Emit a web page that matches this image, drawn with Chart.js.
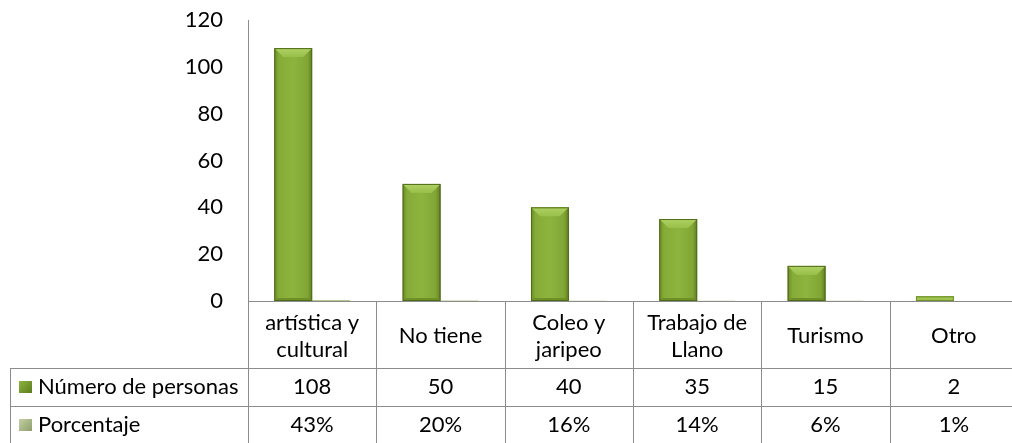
<!DOCTYPE html>
<html>
<head>
<meta charset="utf-8">
<script src="https://cdn.jsdelivr.net/npm/chart.js@4"></script>
<style>
html, body { margin: 0; padding: 0; overflow: hidden; background: #fff; }
#wrap { width: 1020px; height: 443px; }
</style>
</head>
<body>
<div id="wrap"><canvas id="chart"></canvas></div>
<script>
// data
const categories = [["artística y", "cultural"], ["No tiene"], ["Coleo y", "jaripeo"], ["Trabajo de", "Llano"], ["Turismo"], ["Otro"]];
const personas = [108, 50, 40, 35, 15, 2];
const porcentaje = [0.43, 0.20, 0.16, 0.14, 0.06, 0.01];
const porcentajeLabels = ["43%", "20%", "16%", "14%", "6%", "1%"];
const seriesNames = ["Número de personas", "Porcentaje"];
const yTicks = [0, 20, 40, 60, 80, 100, 120];

const FONT = "Lato";
const lineColor = "#8c8c8c";

// bevel look for the green bars, drawn over the bars the library placed
const bevelPlugin = {
    id: "bevel",
    afterDatasetsDraw(chart) {
        let ctx = chart.ctx;
        let meta = chart.getDatasetMeta(0);
        meta.data.forEach((bar) => {
            let left = bar.x - bar.width / 2;
            let right = bar.x + bar.width / 2;
            let top = bar.y;
            let bottom = bar.base;
            let h = bottom - top;
            if (h < 1) return;
            ctx.save();
            let g = ctx.createLinearGradient(left, 0, right, 0);
            g.addColorStop(0, "#6a8a26");
            g.addColorStop(0.12, "#86ab38");
            g.addColorStop(0.5, "#8db53e");
            g.addColorStop(0.88, "#80a535");
            g.addColorStop(1, "#5f7d20");
            ctx.fillStyle = g;
            ctx.fillRect(left, top, right - left, h);
            let b = Math.min(9, h / 2);
            if (h > 10) {
                // top bevel
                let tg = ctx.createLinearGradient(0, top, 0, top + b);
                tg.addColorStop(0, "#b0d265");
                tg.addColorStop(1, "#98bf48");
                ctx.fillStyle = tg;
                ctx.beginPath();
                ctx.moveTo(left, top);
                ctx.lineTo(right, top);
                ctx.lineTo(right - b, top + b);
                ctx.lineTo(left + b, top + b);
                ctx.closePath();
                ctx.fill();
                // bottom bevel
                ctx.fillStyle = "#6f9029";
                ctx.beginPath();
                ctx.moveTo(left, bottom);
                ctx.lineTo(right, bottom);
                ctx.lineTo(right - 3, bottom - 3);
                ctx.lineTo(left + 3, bottom - 3);
                ctx.closePath();
                ctx.fill();
                ctx.strokeStyle = "#4f6b17";
                ctx.lineWidth = 1;
                ctx.strokeRect(left + 0.5, top + 0.5, right - left - 1, h - 1);
            } else {
                ctx.fillStyle = "#9fc451";
                ctx.fillRect(left, top, right - left, h);
                ctx.strokeStyle = "#6f8f2a";
                ctx.lineWidth = 1;
                ctx.strokeRect(left + 0.5, top + 0.5, right - left - 1, h - 1);
            }
            ctx.restore();
        });
    }
};

// data table under the plot
const tablePlugin = {
    id: "dataTable",
    afterDraw(chart) {
        let ctx = chart.ctx;
        let x = chart.scales.x;
        let area = chart.chartArea;
        let n = categories.length;
        let half = (x.getPixelForValue(1) - x.getPixelForValue(0)) / 2;
        let edges = [];
        for (let i = 0; i < n; i++) edges.push(x.getPixelForValue(i) - half);
        edges.push(x.getPixelForValue(n - 1) + half);

        let top = area.bottom;
        let row1 = top + 67;
        let row2 = row1 + 38;
        let row3 = row2 + 38;
        let tableLeft = 10;
        let farRight = chart.width;

        ctx.save();
        ctx.strokeStyle = lineColor;
        ctx.lineWidth = 1;
        ctx.beginPath();
        ctx.moveTo(edges[0], Math.round(top) + 0.5);
        ctx.lineTo(farRight, Math.round(top) + 0.5);
        ctx.moveTo(tableLeft, Math.round(row1) + 0.5);
        ctx.lineTo(farRight, Math.round(row1) + 0.5);
        ctx.moveTo(tableLeft, Math.round(row2) + 0.5);
        ctx.lineTo(farRight, Math.round(row2) + 0.5);
        edges.forEach((e) => {
            ctx.moveTo(Math.round(e) + 0.5, top);
            ctx.lineTo(Math.round(e) + 0.5, row3);
        });
        ctx.moveTo(tableLeft + 0.5, row1);
        ctx.lineTo(tableLeft + 0.5, row3);
        ctx.stroke();

        ctx.fillStyle = "#000";
        ctx.font = "22px " + FONT;
        ctx.textAlign = "center";
        ctx.textBaseline = "middle";
        categories.forEach((lab, i) => {
            let cx = x.getPixelForValue(i);
            if (lab.length == 2) {
                ctx.fillText(lab[0], cx, top + 22);
                ctx.fillText(lab[1], cx, top + 49);
            } else {
                ctx.fillText(lab[0], cx, top + 35);
            }
            ctx.fillText(String(personas[i]), cx, row1 + 19);
            ctx.fillText(porcentajeLabels[i], cx, row2 + 19);
        });

        // row headers with legend keys
        let keys = [["#5c7c1e", "#8db53e"], ["#8f9f6c", "#c3d0a4"]];
        [row1, row2].forEach((ry, k) => {
            let sy = ry + 13;
            let g = ctx.createLinearGradient(19, sy, 32, sy + 12);
            g.addColorStop(0, keys[k][1]);
            g.addColorStop(1, keys[k][0]);
            ctx.fillStyle = g;
            ctx.fillRect(19, sy, 13, 12);
            ctx.fillStyle = "#000";
            ctx.textAlign = "left";
            ctx.fillText(seriesNames[k], 38, ry + 19);
        });
        ctx.restore();
    }
};

new Chart(document.querySelector("#chart"), {
    type: "bar",
    data: {
        labels: categories,
        datasets: [
            {
                label: seriesNames[0],
                data: personas,
                backgroundColor: "#8ab13a",
                borderColor: "#4f6b17",
                borderWidth: 1,
                categoryPercentage: 0.59,
                barPercentage: 1.0
            },
            {
                label: seriesNames[1],
                data: porcentaje,
                backgroundColor: "#b4c48e",
                borderColor: "#7f8f5a",
                borderWidth: 0,
                categoryPercentage: 0.59,
                barPercentage: 1.0
            }
        ]
    },
    options: {
        responsive: true,
        maintainAspectRatio: false,
        animation: false,
        layout: {
            padding: { top: 20, bottom: 142, right: 2, left: 0 }
        },
        plugins: {
            legend: { display: false },
            tooltip: { enabled: false }
        },
        scales: {
            x: {
                display: false,
                offset: true
            },
            y: {
                min: 0,
                max: 120,
                afterBuildTicks(scale) {
                    scale.ticks = yTicks.map((v) => ({ value: v }));
                },
                afterFit(scale) {
                    scale.width = 248;
                    scale.paddingTop = 0;
                    scale.paddingBottom = 0;
                },
                ticks: {
                    color: "#000",
                    padding: 25,
                    font: { family: FONT, size: 22 }
                },
                grid: {
                    display: false,
                    drawTicks: false
                },
                border: {
                    display: true,
                    color: lineColor,
                    width: 1
                }
            }
        }
    },
    plugins: [bevelPlugin, tablePlugin]
});
</script>
</body>
</html>
